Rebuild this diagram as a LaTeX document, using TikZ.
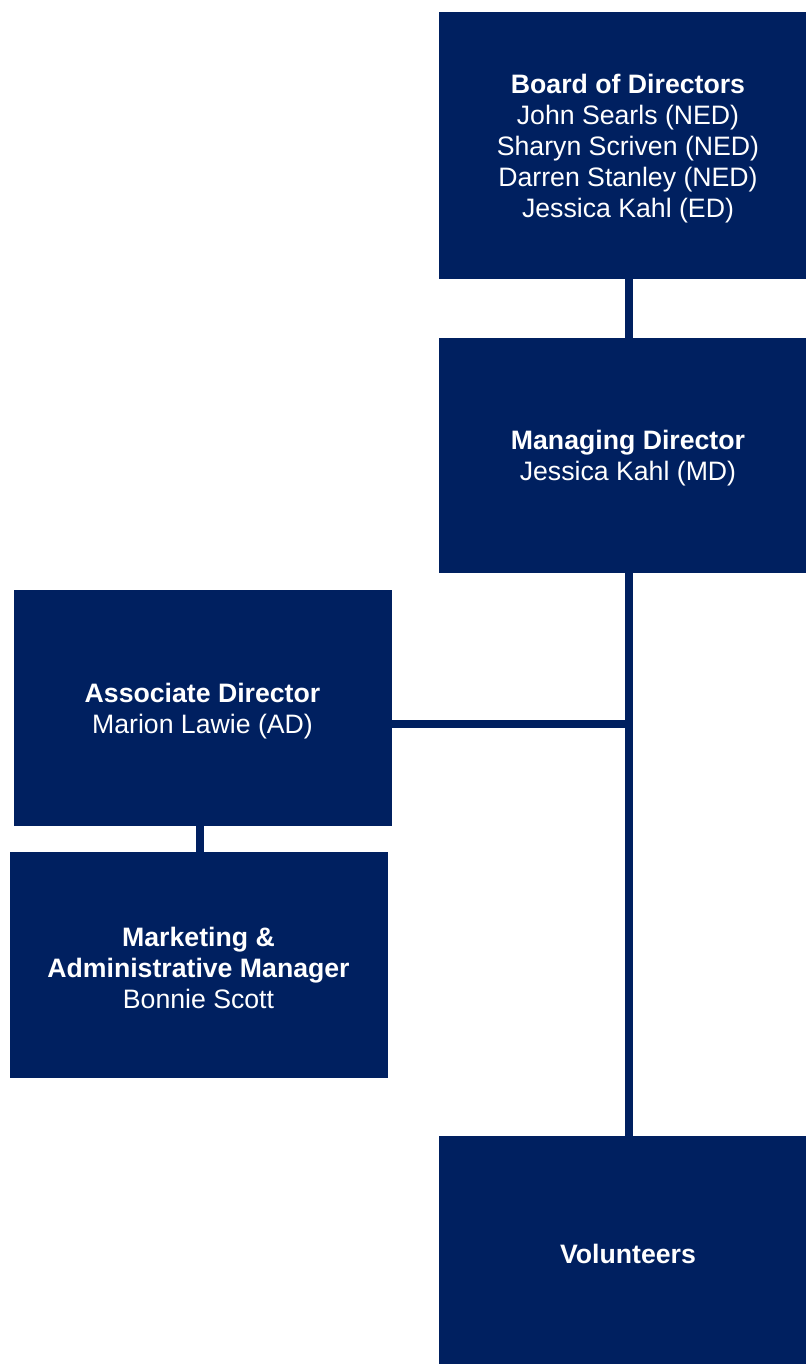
\documentclass[tikz,border=0pt]{standalone}
\usepackage{fontspec}
\setmainfont{Liberation Sans}
\definecolor{navy}{RGB}{0,32,96}
\newcommand{\topgap}{\rule{0pt}{19pt}}

\begin{document}
\begin{tikzpicture}[
    x=0.75pt, y=-0.75pt,
    font=\fontsize{20}{23.25}\selectfont,
    role/.style={fill=navy, text=white, align=center, inner sep=0pt, minimum width=283.5pt},
    link/.style={draw=navy, line width=6pt}
]
\clip (0,0) rectangle (806,1364);

\node[role, minimum height=200.25pt] (board) at (628,145.5) {
    \topgap\textbf{Board of Directors}\\
    John Searls (NED)\\
    Sharyn Scriven (NED)\\
    Darren Stanley (NED)\\
    Jessica Kahl (ED)
};
\node[role, minimum height=176.25pt] (md) at (628,455.5) {
    \topgap\textbf{Managing Director}\\
    Jessica Kahl (MD)
};
\node[role, minimum height=177pt] (assoc) at (202.5,708) {
    \topgap\textbf{Associate Director}\\
    Marion Lawie (AD)
};
\node[role, minimum height=169.5pt] (marketing) at (198.5,965) {
    \topgap\textbf{Marketing \&}\\
    \textbf{Administrative Manager}\\
    Bonnie Scott
};
\node[role, minimum height=177pt] (volunteers) at (628,1254) {\textbf{Volunteers}};

% reporting lines
\coordinate (tee) at (629,724);
\draw[link] ([xshift=0.75pt]board.south) -- ([xshift=0.75pt]md.north);
\draw[link] ([xshift=0.75pt]md.south) -- ([xshift=0.75pt]volunteers.north);
\draw[link] (assoc.east |- tee) -- ([xshift=3pt]tee);
\draw[link] ([xshift=-1.9pt]assoc.south) -- ([xshift=-1.9pt]assoc.south |- marketing.north);

\end{tikzpicture}
\end{document}
